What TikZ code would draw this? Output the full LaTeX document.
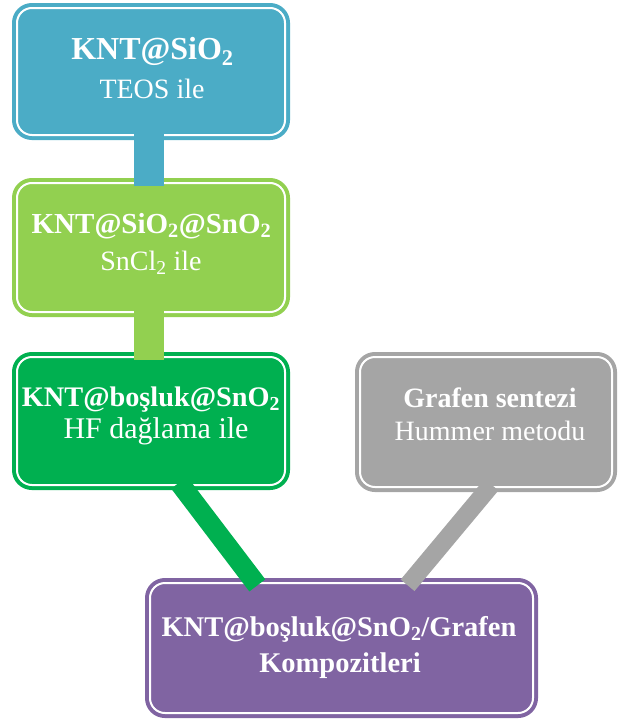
\documentclass[tikz,border=0pt]{standalone}
\usepackage{fontspec}
\setmainfont{Liberation Serif}
\definecolor{cblue}{RGB}{75,172,198}
\definecolor{clgreen}{RGB}{146,208,80}
\definecolor{cgreen}{RGB}{0,176,80}
\definecolor{cgrey}{RGB}{165,165,165}
\definecolor{cpurple}{RGB}{128,100,162}
\tikzset{
  box/.style={rectangle, rounded corners=15pt, draw=#1, fill=#1, double=white,
    double distance=2pt, line width=4pt, inner sep=0pt, outer sep=0pt},
  conn/.style={draw=#1, line width=30pt, shorten <=-3pt, shorten >=-3pt},
  lreg/.style={text=white, anchor=base, inner sep=0pt, font=\fontsize{#1}{30}\selectfont},
  lbold/.style={text=white, anchor=base, inner sep=0pt, font=\fontsize{#1}{30}\selectfont\bfseries},
}
\begin{document}
\begin{tikzpicture}[x=1pt,y=-1pt]
\useasboundingbox (0,0) rectangle (620,720);
% boxes
\node[box=cblue,   minimum width=268pt, minimum height=127pt] (b1) at (151,71.5) {};
\node[box=clgreen, minimum width=268pt, minimum height=129pt] (b2) at (151,247.5) {};
\node[box=cgreen,  minimum width=268pt, minimum height=128pt] (b3) at (151,421) {};
\node[box=cgrey,   minimum width=252pt, minimum height=130pt] (b4) at (486,422) {};
\node[box=cpurple, minimum width=383pt, minimum height=130pt] (b5) at (341.5,648) {};
% connectors
\draw[conn=cblue] ([xshift=-2pt]b1.south) -- ([xshift=-2pt]b2.north);
\draw[conn=clgreen] ([xshift=-2pt]b2.south) -- ([xshift=-2pt]b3.north);
\draw[conn=cgreen, line width=20pt] ([xshift=30pt]b3.south) -- ([xshift=-86pt]b5.north);
\draw[conn=cgrey, line width=18pt] ([xshift=3.6pt]b4.south) -- ([xshift=68pt]b5.north);
% texts
\node[lbold=32] (t1a) at (152.5,59) {KNT@SiO\textsubscript{2}};
\node[lreg=28]  (t1b) at (152,98.5) {TEOS ile};
\node[lbold=29] (t2a) at (151.5,233) {KNT@SiO\textsubscript{2}@SnO\textsubscript{2}};
\node[lreg=28]  (t2b) at (151,270) {SnCl\textsubscript{2} ile};
\node[lbold=28.3] (t3a) at (151,406) {KNT@boşluk@SnO\textsubscript{2}};
\node[lreg=30]  (t3b) at (156,438) {HF dağlama ile};
\node[lbold=28] (t4a) at (490,407) {Grafen sentezi};
\node[lreg=28]  (t4b) at (490,440) {Hummer metodu};
\node[lbold=28.5] (t5a) at (339,636) {KNT@boşluk@SnO\textsubscript{2}/Grafen};
\node[lbold=28.5] (t5b) at (340,672) {Kompozitleri};
\end{tikzpicture}
\end{document}
